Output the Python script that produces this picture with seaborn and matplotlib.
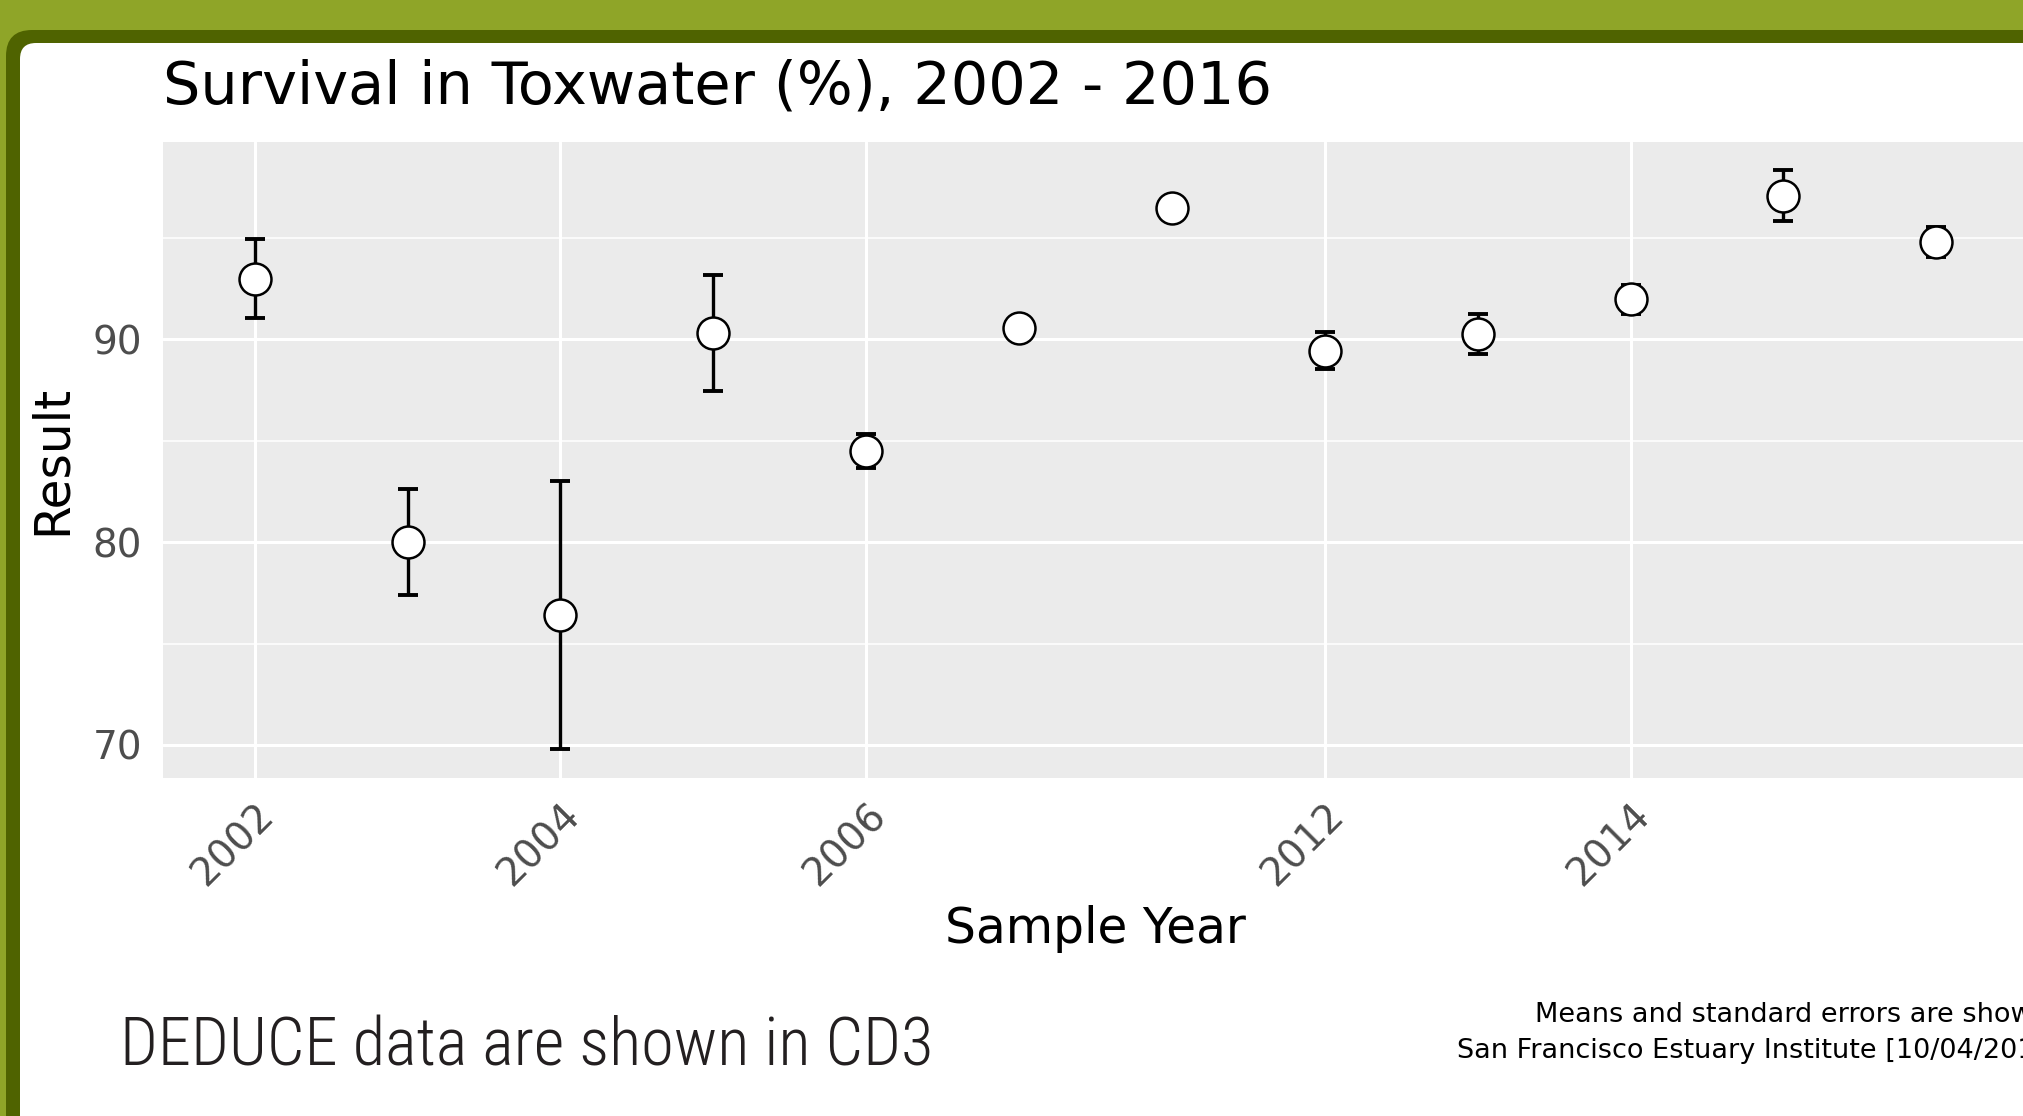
import numpy as np
import pandas as pd
import matplotlib
matplotlib.use('Agg')
import matplotlib.pyplot as plt
from matplotlib import font_manager
from matplotlib.patches import FancyBboxPatch
from matplotlib.transforms import IdentityTransform
import seaborn as sns

# datos
years = ['2002', '2003', '2004', '2005', '2006', '2008', '2010',
         '2012', '2013', '2014', '2015', '2016']
means = [93.0, 80.0, 76.4, 90.3, 84.5, 90.55, 96.5, 89.45, 90.26, 91.98, 97.1, 94.8]
se = [1.95, 2.6, 6.6, 2.86, 0.84, 0.0, 0.0, 0.9, 0.98, 0.7, 1.26, 0.75]
tick_years = ['2002', '2004', '2006', '2012', '2014']
y_ticks = [70, 80, 90]
y_minor = [75, 85, 95]

df = pd.DataFrame({'year': years, 'mean': means, 'se': se})
df['pos'] = np.arange(len(df))

W, H = 2024, 1116
sns.set_theme(style='darkgrid')
plt.rcParams['font.family'] = ['DejaVu Sans']

fig = plt.figure(figsize=(W / 100, H / 100), dpi=100)
fig.patch.set_facecolor('#8FA528')

# marco verde redondeado
fig.patches.append(FancyBboxPatch((6, -60), 2200, H - 30 + 60,
                                  boxstyle='round,pad=0,rounding_size=26',
                                  transform=IdentityTransform(), facecolor='#4F6300',
                                  edgecolor='none', zorder=-2))
fig.patches.append(FancyBboxPatch((20, -60), 2200, H - 43 + 60,
                                  boxstyle='round,pad=0,rounding_size=16',
                                  transform=IdentityTransform(), facecolor='white',
                                  edgecolor='none', zorder=-1))

left, right, top, bottom = 163, 2028, 142, 778
ax = fig.add_axes([left / W, (H - bottom) / H, (right - left) / W, (bottom - top) / H])
ax.set_facecolor('#EBEBEB')

ax.errorbar(df['pos'], df['mean'], yerr=df['se'], fmt='none', ecolor='black',
            elinewidth=2.4, capsize=7, capthick=2.8, zorder=3)
sns.scatterplot(data=df, x='pos', y='mean', ax=ax, s=23 ** 2, color='white',
                edgecolor='black', linewidth=1.8, zorder=4, legend=False)

ax.set_xlim(-0.6, len(years) - 0.4)
ax.set_ylim(68.37, 99.74)
ax.set_xticks([years.index(t) for t in tick_years])
ax.set_xticklabels(tick_years, rotation=45, ha='right', rotation_mode='anchor')
ax.set_yticks(y_ticks)
ax.set_yticks(y_minor, minor=True)
ax.grid(True, which='major', color='white', linewidth=2.2)
ax.grid(True, which='minor', axis='y', color='white', linewidth=1.1)
for s in ax.spines.values():
    s.set_visible(False)
ax.tick_params(axis='both', which='major', length=8, width=2.2, color='#333333',
               labelcolor='#4D4D4D', labelsize=28, pad=7)
ax.tick_params(axis='y', which='minor', length=0)
ax.tick_params(axis='x', pad=5)

ax.set_xlabel('Sample Year', fontsize=35, color='black')
ax.xaxis.set_label_coords(0.5, -0.20)
ax.set_ylabel('Result', fontsize=35, color='black')
ax.yaxis.set_label_coords(-0.047, 0.5)
ax.set_title('Survival in Toxwater (%), 2002 - 2016', loc='left', fontsize=42.5,
             color='black', pad=28)

# fuente estrecha para el pie
narrow = 'DejaVu Sans'
for cand in ['Roboto Condensed', 'Liberation Sans Narrow', 'Open Sans Condensed']:
    try:
        font_manager.findfont(cand, fallback_to_default=False)
        narrow = cand
        break
    except Exception:
        pass
fig.text(120 / W, (H - 1065) / H, 'DEDUCE data are shown in CD3', family=narrow,
         fontsize=48, fontweight='light', color='#231F20', va='baseline', ha='left')

# el pie de la derecha queda cortado por el borde, como en la imagen original
fig.text(1535 / W, (H - 1022) / H, 'Means and standard errors are shown.',
         fontsize=19.5, color='black', va='baseline', ha='left')
fig.text(1457 / W, (H - 1058) / H, 'San Francisco Estuary Institute [10/04/2017]',
         fontsize=19.5, color='black', va='baseline', ha='left')

fig.savefig('out.png', dpi=100, facecolor=fig.get_facecolor())
